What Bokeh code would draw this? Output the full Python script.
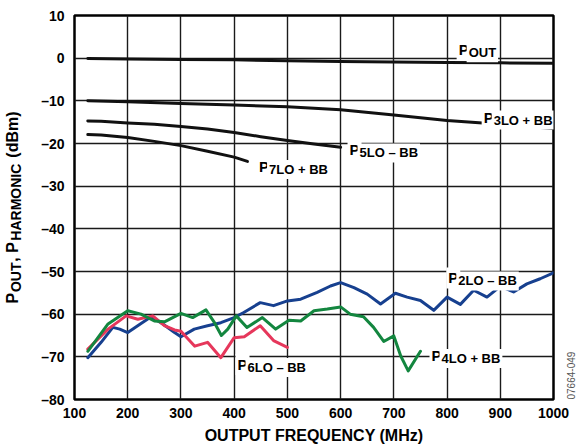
import math
from bokeh.plotting import figure
from bokeh.models import Label, FixedTicker, CustomJSTickFormatter, Range1d, LinearAxis
from bokeh.embed import file_html
from bokeh.resources import INLINE

# ---- data ----
x_ticks = [100, 200, 300, 400, 500, 600, 700, 800, 900, 1000]
y_ticks = [-80, -70, -60, -50, -40, -30, -20, -10, 0, 10]

freq_pout = [125, 200, 300, 400, 500, 600, 700, 800, 900, 1000]
pout = [-0.1, -0.2, -0.3, -0.4, -0.6, -0.8, -0.9, -1.0, -1.1, -1.2]

freq_p3 = [125, 200, 300, 400, 500, 600, 700, 800, 900, 1000]
p3 = [-10.0, -10.2, -10.6, -11.0, -11.4, -12.1, -13.3, -14.6, -15.5, -16.5]

freq_p5 = [125, 150, 200, 250, 300, 350, 400, 450, 500, 550, 600]
p5 = [-14.7, -14.8, -15.2, -15.5, -16.0, -16.6, -17.4, -18.4, -19.3, -20.1, -20.9]

freq_p7 = [125, 150, 200, 250, 300, 350, 400, 425]
p7 = [-17.9, -18.0, -18.6, -19.5, -20.5, -21.8, -23.2, -24.2]

freq_p2 = [125, 150, 172, 185, 200, 225, 244, 266, 288, 300, 325, 350, 375, 400,
           418, 449, 474, 500, 525, 556, 581, 600, 625, 650, 675, 703, 725, 750,
           775, 800, 825, 850, 875, 900, 925, 950, 975, 1000]
p2 = [-70.2, -66.6, -63.1, -63.5, -64.3, -62.2, -60.6, -62.3, -64.3, -65.3, -63.5,
      -62.7, -62.0, -60.8, -59.6, -57.3, -58.0, -56.9, -56.5, -54.9, -53.4, -52.6,
      -53.8, -55.3, -57.6, -55.1, -56.0, -56.8, -59.1, -56.0, -57.7, -54.4, -56.0,
      -53.5, -54.8, -52.9, -51.7, -50.3]

freq_p4 = [125, 163, 200, 225, 250, 269, 300, 322, 347, 363, 376, 388, 404, 424,
           453, 478, 503, 525, 550, 575, 600, 618, 643, 662, 681, 700, 713, 727, 750]
p4 = [-68.7, -62.3, -59.2, -60.0, -61.6, -61.8, -59.8, -60.8, -59.0, -62.0, -65.0,
      -63.5, -60.4, -63.1, -60.8, -63.5, -61.4, -61.6, -59.2, -58.8, -58.3, -60.0,
      -60.6, -63.1, -66.4, -65.1, -69.8, -73.3, -68.7]

freq_p6 = [125, 163, 197, 219, 247, 269, 288, 300, 326, 350, 375, 400, 419, 449, 474, 500]
p6 = [-68.2, -63.5, -60.4, -61.2, -60.4, -62.7, -63.7, -64.0, -67.5, -66.6, -70.2,
      -65.5, -65.3, -62.7, -66.2, -67.8]

FONT = "Liberation Sans"
Y0, Y1 = -80, 10
FRAME_H = 384

p = figure(width=583, height=447, output_backend="svg", toolbar_location=None,
           x_range=Range1d(100, 1000), y_range=Range1d(Y0, Y1),
           min_border_left=74, min_border_right=30, min_border_top=15,
           min_border_bottom=48)
p.background_fill_color = "white"
p.border_fill_color = "white"
p.outline_line_color = "black"
p.outline_line_width = 2.5


def style_axis(ax):
    ax.axis_line_color = None
    ax.major_tick_line_color = None
    ax.minor_tick_line_color = None
    ax.major_tick_out = 0
    ax.major_tick_in = 0
    ax.minor_tick_out = 0
    ax.minor_tick_in = 0
    ax.major_label_text_font = FONT
    ax.major_label_text_font_style = "bold"
    ax.major_label_text_color = "black"
    ax.axis_label_text_font = FONT
    ax.axis_label_text_font_style = "bold"
    ax.axis_label_text_color = "black"


fmt = CustomJSTickFormatter(code="return tick < 0 ? '\\u2013' + Math.abs(tick) : tick.toString();")
for ax, ticks in ((p.xaxis, x_ticks), (p.yaxis, y_ticks)):
    style_axis(ax)
    ax.ticker = FixedTicker(ticks=ticks)
    ax.formatter = fmt
    ax.major_label_text_font_size = "14px"
p.xaxis.major_label_standoff = 8
p.yaxis.major_label_standoff = 10

p.xaxis.axis_label = "OUTPUT FREQUENCY (MHz)"
p.xaxis.axis_label_text_font_size = "16px"
p.xaxis.axis_label_standoff = 6

p.xgrid.ticker = FixedTicker(ticks=x_ticks)
p.ygrid.ticker = FixedTicker(ticks=y_ticks)
for g in (p.xgrid, p.ygrid):
    g.grid_line_color = "#1a1a1a"
    g.grid_line_width = 1.4

black = "#111111"
for fx, fy in ((freq_pout, pout), (freq_p3, p3), (freq_p5, p5), (freq_p7, p7)):
    p.line(fx, fy, line_width=3, color=black, line_join="round", line_cap="round")
p.line(freq_p2, p2, line_width=3, color="#17408f", line_join="round", line_cap="round")
p.line(freq_p6, p6, line_width=3, color="#e6375b", line_join="round", line_cap="round")
p.line(freq_p4, p4, line_width=3, color="#13863f", line_join="round", line_cap="round")

# ---- curve labels: P + subscript ----
curve_labels = [(818, 2.0, "OUT"), (865, -13.8, "3LO + BB"), (613, -21.5, "5LO \u2013 BB"),
                (443, -25.4, "7LO + BB"), (402.5, -71.8, "6LO \u2013 BB"),
                (767, -69.7, "4LO + BB"), (798.5, -51.5, "2LO \u2013 BB")]
for lx, ly, sub in curve_labels:
    p.add_layout(Label(x=lx, y=ly, text="P", text_font=FONT, text_font_style="bold",
                       text_font_size="15px", text_color="black",
                       text_baseline="alphabetic", text_align="left",
                       background_fill_color="white", padding=2))
    p.add_layout(Label(x=lx, y=ly, x_offset=10, y_offset=-3, text=sub, text_font=FONT,
                       text_font_style="bold", text_font_size="13px", text_color="black",
                       text_baseline="alphabetic", text_align="left",
                       background_fill_color="white", padding=2))

# ---- y-axis title: main text as axis label, subscripts as tick labels ----
W = {"P": .667, "O": .778, "U": .722, "T": .611, ",": .278, " ": .278, "\u00a0": .278,
     "H": .722, "A": .722, "R": .722, "M": .833, "N": .722, "I": .278, "C": .722,
     "(": .333, "d": .611, "B": .722, "m": .889, ")": .333}
MAIN_FS, SUB_FS = 16, 14
NB = "\u00a0"
parts = [("P", False), (NB * 7, "OUT"), (", P", False), (NB * 18, "HARMONIC"), (" (dBm)", False)]
main_text = "".join(t for t, _ in parts)
widths = [sum(W[c] for c in t) * MAIN_FS for t, _ in parts]
total = sum(widths)
px_per_unit = FRAME_H / (Y1 - Y0)
center = (Y0 + Y1) / 2
sub_ticks, sub_over = [], {}
acc = 0.0
for (t, sub), w in zip(parts, widths):
    if sub:
        mid_px = acc + w / 2 - total / 2
        val = round(center + mid_px / px_per_unit, 3)
        sub_ticks.append(val)
        sub_over[val] = sub
    acc += w

title_axis = LinearAxis(ticker=FixedTicker(ticks=sub_ticks), major_label_overrides=sub_over)
style_axis(title_axis)
title_axis.major_label_text_font_size = f"{SUB_FS}px"
title_axis.major_label_orientation = "vertical"
title_axis.major_label_standoff = 14
title_axis.axis_label = main_text
title_axis.axis_label_text_font_size = f"{MAIN_FS}px"
title_axis.axis_label_standoff = -15
p.add_layout(title_axis, "left")

# ---- figure code at bottom right ----
code_axis = LinearAxis(ticker=FixedTicker(ticks=[Y0]),
                       major_label_overrides={Y0: "07664-049"})
style_axis(code_axis)
code_axis.major_label_text_font_size = "10px"
code_axis.major_label_text_font_style = "normal"
code_axis.major_label_text_color = "#555555"
code_axis.major_label_orientation = math.pi / 2
code_axis.major_label_standoff = 17
p.add_layout(code_axis, "right")

open("out.html", "w").write(file_html(p, INLINE))
